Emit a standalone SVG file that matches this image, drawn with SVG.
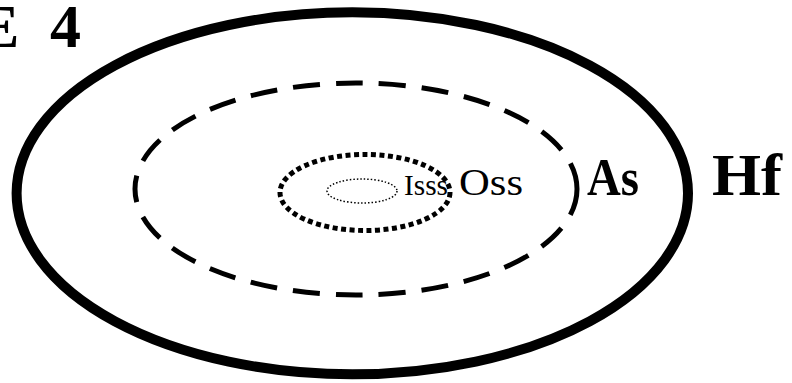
<svg xmlns="http://www.w3.org/2000/svg" width="792" height="383" viewBox="0 0 792 383">
<style>
.ring{fill:none;stroke:#000}
.lbl{font-family:"Liberation Serif","Times New Roman",serif;fill:#000}
.b{font-weight:bold}
</style>
<rect width="792" height="383" fill="#fff"/>
<g id="title"><text class="lbl b" x="-22" y="47" font-size="62">E<tspan x="50">4</tspan></text></g>
<g id="hf">
<ellipse class="ring" cx="352.3" cy="193.3" rx="335.7" ry="181" stroke-width="10"/>
<text class="lbl b" x="712" y="195" font-size="59" textLength="70" lengthAdjust="spacingAndGlyphs">Hf</text>
</g>
<g id="as">
<ellipse class="ring" cx="356" cy="189" rx="221" ry="106" stroke-width="5" stroke-dasharray="27 16"/>
<text class="lbl b" x="587" y="195" font-size="52" textLength="52" lengthAdjust="spacingAndGlyphs">As</text>
</g>
<g id="oss">
<ellipse class="ring" cx="365" cy="192.5" rx="85" ry="38" stroke-width="5" stroke-dasharray="5 3.5"/>
<text class="lbl" x="459" y="195" font-size="38" textLength="64" lengthAdjust="spacingAndGlyphs">Oss</text>
</g>
<g id="isss">
<ellipse class="ring" cx="362" cy="191" rx="35" ry="12" stroke-width="1.5" stroke-dasharray="1.5 2"/>
<text class="lbl" x="404" y="195" font-size="30" textLength="44" lengthAdjust="spacingAndGlyphs">Isss</text>
</g>
<g id="connectors"></g>
</svg>
